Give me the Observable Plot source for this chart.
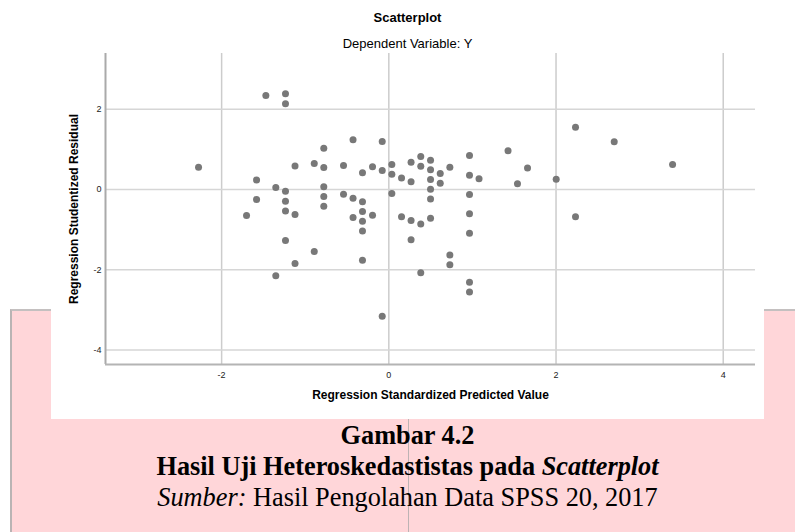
<!DOCTYPE html>
<html>
<head>
<meta charset="utf-8">
<script src="https://cdn.jsdelivr.net/npm/d3@7"></script>
<script src="https://cdn.jsdelivr.net/npm/@observablehq/plot@0.6"></script>
<style>
  html, body { margin: 0; padding: 0; background: #ffffff; }
  #page { position: relative; width: 795px; height: 532px; overflow: hidden; background: #ffffff; }
  #pink { position: absolute; left: 10px; top: 309px; width: 785px; height: 223px; background: #ffd6d9;
          border-left: 2px solid #b9b4b4; border-top: 2px solid #c4c0c0; box-sizing: border-box; }
  #panel { position: absolute; left: 51px; top: 0px; width: 713px; height: 419px; background: #ffffff; }
  #chart { position: absolute; left: 51px; top: 0px; }
  .ttl { position: absolute; left: 51px; width: 713px; text-align: center; font-family: Arial, "Liberation Sans", sans-serif;
         font-size: 13px; line-height: 15px; color: #000; }
  #fold { position: absolute; left: 408px; top: 419px; width: 1px; height: 113px; background: #bdb3b4; }
  #caption { position: absolute; left: 51px; top: 420px; width: 713px; text-align: center;
             font-family: "Liberation Serif", "Times New Roman", serif; font-size: 26.3px; line-height: 31px; color: #000; }
</style>
</head>
<body>
<div id="page">
  <div id="pink"></div>
  <div id="panel"></div>
  <div id="chart"></div>
  <div class="ttl" style="top:10px;font-weight:bold;">Scatterplot</div>
  <div class="ttl" style="top:36px;">Dependent Variable: Y</div>
  <div id="fold"></div>
  <div id="caption">
    <div style="font-weight:bold;">Gambar 4.2</div>
    <div style="font-weight:bold;">Hasil Uji Heteroskedastistas pada <i>Scatterplot</i></div>
    <div><i>Sumber:</i> Hasil Pengolahan Data SPSS 20, 2017</div>
  </div>
</div>
<script>
// Regression Standardized Predicted Value (x) and Regression Studentized Residual (y)
const predicted = [
  -1.471, -1.236, -1.236, -2.276, -0.778, -0.428, -0.079, -1.122, -0.892, -0.778,
  -0.542, -0.315, -0.195, -0.079, 0.036, 0.036, 0.152, -1.582, -1.352, -1.236,
  -1.582, -1.236, -1.702, -1.236, -1.122, -0.778, -0.778, -0.778, -0.542, -0.428,
  -0.315, -0.315, -0.428, -0.195, -0.315, -0.315, 0.036, 0.152, -1.236, -0.892,
  -1.122, -0.315, -1.352, -0.079, 0.266, 0.266, 0.382, 0.382, 0.499, 0.499,
  0.499, 0.499, 0.499, 0.615, 0.615, 0.730, 0.965, 0.965, 1.079, 0.965,
  0.965, 0.965, 0.965, 0.965, 1.426, 1.659, 1.539, 2.002, 2.233, 2.696,
  3.394, 2.233, 0.266, 0.382, 0.499, 0.266, 0.730, 0.730, 0.382
];
const residual = [
  2.344, 2.387, 2.137, 0.556, 1.030, 1.239, 1.197, 0.586, 0.648, 0.549,
  0.599, 0.416, 0.569, 0.474, 0.623, 0.382, 0.287, 0.237, 0.050, -0.042,
  -0.249, -0.292, -0.648, -0.536, -0.623, 0.067, -0.175, -0.419, -0.117, -0.217,
  -0.307, -0.549, -0.698, -0.641, -0.791, -1.035, -0.100, -0.681, -1.272, -1.546,
  -1.845, -1.763, -2.150, -3.160, 0.678, 0.195, 0.823, 0.581, 0.731, 0.491,
  0.249, 0.007, -0.237, 0.399, 0.157, 0.554, 0.848, 0.357, 0.269, -0.125,
  -0.606, -1.092, -2.312, -2.556, 0.968, 0.536, 0.142, 0.254, 1.554, 1.190,
  0.623, -0.678, -0.773, -0.860, -0.718, -1.254, -1.633, -1.878, -2.077
];
const xTicks = [-2, 0, 2, 4];
const yTicks = [-4, -2, 0, 2];
const xTitle = "Regression Standardized Predicted Value";
const yTitle = "Regression Studentized Residual";

const points = predicted.map((x, i) => ({x, y: residual[i]}));
const xDomain = [-3.389, 4.386];
const yDomain = [-4.364, 3.392];

const chart = Plot.plot({
  width: 713,
  height: 419,
  marginLeft: 54,
  marginRight: 9,
  marginTop: 53,
  marginBottom: 55,
  style: {background: "transparent", fontFamily: "Arial, 'Liberation Sans', sans-serif", color: "#000"},
  x: {domain: xDomain, label: null},
  y: {domain: yDomain, label: null},
  marks: [
    Plot.gridX(xTicks, {stroke: "#cccccc", strokeOpacity: 1, strokeWidth: 1.5}),
    Plot.gridY(yTicks, {stroke: "#d6d6d6", strokeOpacity: 1, strokeWidth: 1.5}),
    Plot.ruleX([xDomain[0]], {stroke: "#aaaaaa", strokeWidth: 2}),
    Plot.ruleY([yDomain[0]], {stroke: "#b4b4b4", strokeWidth: 2}),
    Plot.dot(points, {x: "x", y: "y", r: 3.5, fill: "#787878", stroke: null}),
    Plot.axisX(xTicks, {tickSize: 0, tickPadding: 7, fontSize: 9, tickFormat: d => String(d), label: null, color: "#222"}),
    Plot.axisY(yTicks, {tickSize: 0, tickPadding: 4, fontSize: 9, tickFormat: d => String(d), label: null, color: "#222"}),
    Plot.text([xTitle], {frameAnchor: "bottom", dy: 34, text: d => d, fontSize: 12, fontWeight: "bold", fill: "#000"}),
    Plot.text([yTitle], {frameAnchor: "left", dx: -31, rotate: -90, textAnchor: "middle", text: d => d, fontSize: 12, fontWeight: "bold", fill: "#000"})
  ]
});
document.getElementById("chart").appendChild(chart);
</script>
</body>
</html>
